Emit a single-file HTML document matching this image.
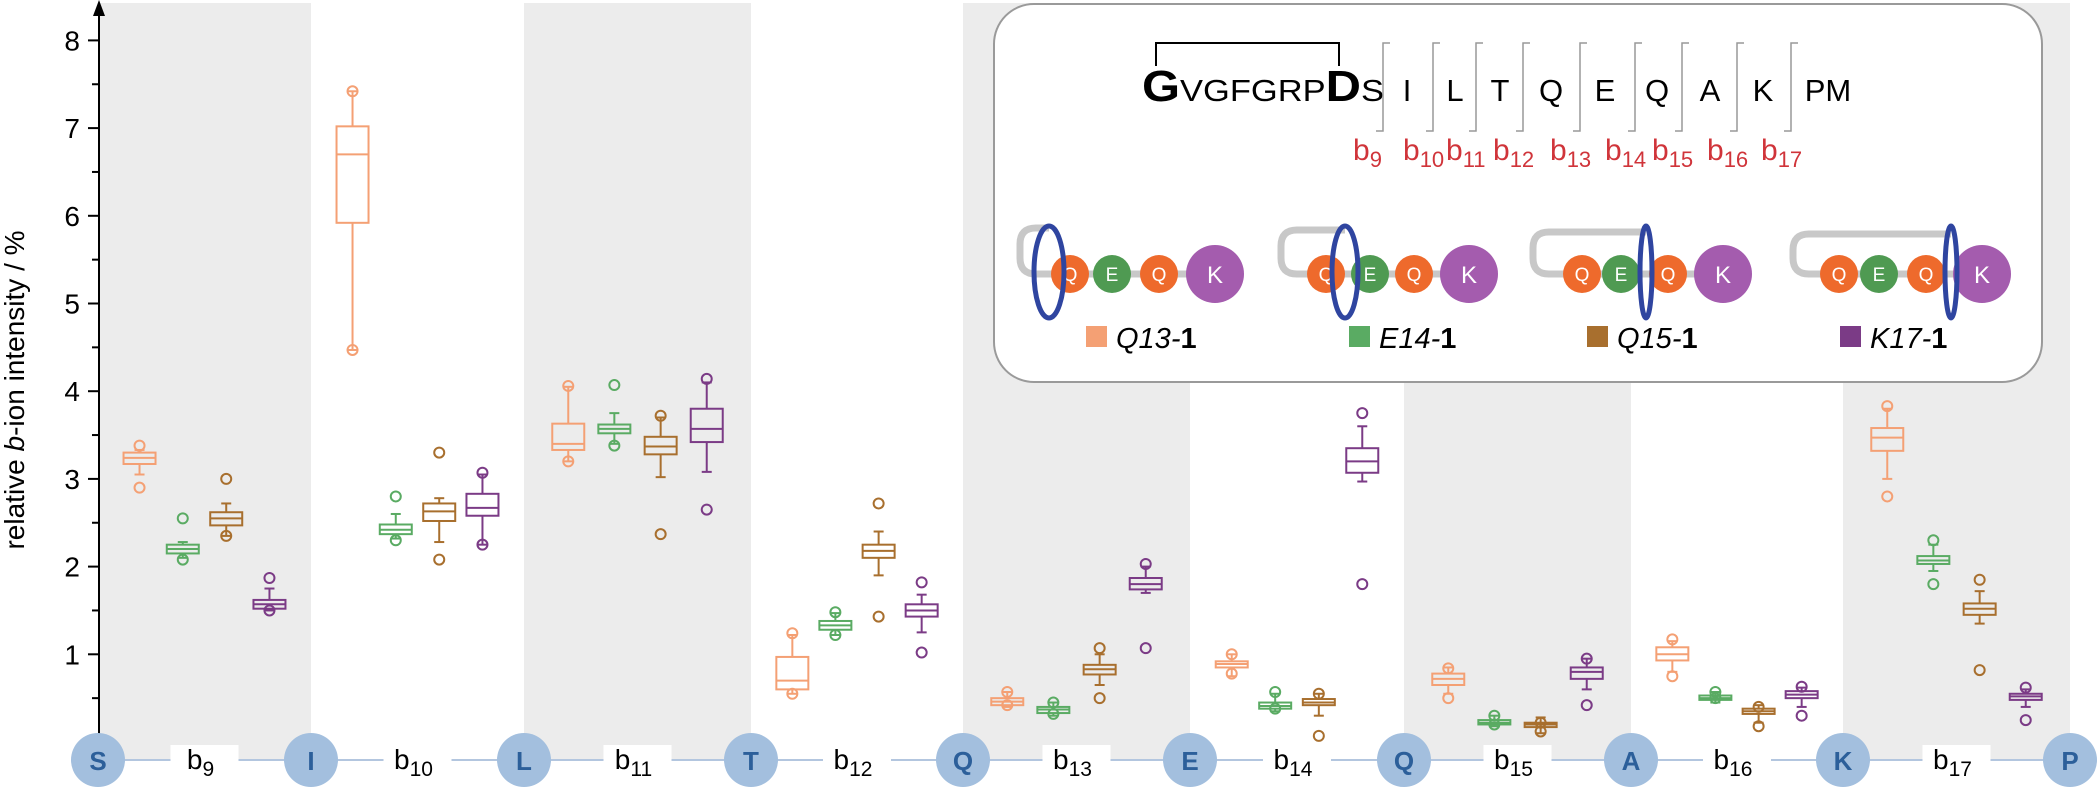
<!DOCTYPE html>
<html><head><meta charset="utf-8">
<style>
html,body{margin:0;padding:0;background:#fff;}
svg{display:block;font-family:"Liberation Sans",Arial,sans-serif;}
</style></head>
<body>
<svg id="s" width="2100" height="789" viewBox="0 0 2100 789" xmlns="http://www.w3.org/2000/svg">
<g id="bands" fill="#ececec"></g>
<rect x="994" y="4" width="1048" height="378" rx="40" ry="40" fill="#fff" stroke="#9a9a9a" stroke-width="2"/>
<g id="inset"></g>
<line x1="99" y1="744" x2="99" y2="12" stroke="#000" stroke-width="2"/>
<polygon points="99,0 93,16 105,16" fill="#000"/>
<g id="ticks"></g>
<text transform="translate(24,390) rotate(-90)" text-anchor="middle" font-size="28" fill="#000">relative <tspan font-style="italic">b</tspan>-ion intensity / %</text>
<g id="data"></g>
<g id="bottom"></g>
</svg>
<script>
var NS="http://www.w3.org/2000/svg";
function el(p,t,a,txt){var e=document.createElementNS(NS,t);for(var k in a)e.setAttribute(k,a[k]);if(txt!==undefined)e.textContent=txt;p.appendChild(e);return e;}
var g=function(id){return document.getElementById(id);};
function Y(v){return 742-87.7*v;}
var c=[98,311,524,751,963,1190,1404,1631,1843,2070];
for(var i=0;i<10;i+=2){el(g('bands'),'rect',{x:c[i],y:3,width:c[i+1]-c[i],height:757});}
for(var v=0.5;v<=8.01;v+=0.5){var maj=Math.abs(v-Math.round(v))<0.01;
 el(g('ticks'),'line',{x1:maj?88:92,y1:Y(v),x2:99,y2:Y(v),stroke:'#000','stroke-width':2});
 if(maj)el(g('ticks'),'text',{x:80,y:Y(v)+10,'text-anchor':'end','font-size':28},String(Math.round(v)));}
var cols=['#f4a074','#5aab63','#a86f2e','#7b3b86'];
var D=[
[[3.17,3.24,3.3,3.05,3.33,2.9,3.38],[2.15,2.2,2.25,2.1,2.28,2.08,2.55],[2.47,2.55,2.62,2.35,2.72,2.35,3.0],[1.52,1.57,1.62,1.5,1.75,1.5,1.87]],
[[5.92,6.7,7.02,4.47,7.42,4.47,7.42],[2.37,2.42,2.48,2.32,2.6,2.3,2.8],[2.52,2.63,2.72,2.28,2.78,2.08,3.3],[2.58,2.67,2.83,2.25,3.05,2.25,3.07]],
[[3.33,3.4,3.63,3.2,4.05,3.2,4.06],[3.52,3.57,3.62,3.4,3.75,3.38,4.07],[3.28,3.37,3.48,3.02,3.7,2.37,3.72],[3.42,3.57,3.8,3.08,4.1,2.65,4.14]],
[[0.6,0.7,0.97,0.55,1.22,0.55,1.24],[1.28,1.33,1.38,1.22,1.47,1.22,1.48],[2.1,2.18,2.25,1.9,2.4,1.43,2.72],[1.43,1.5,1.57,1.25,1.68,1.02,1.82]],
[[0.42,0.46,0.5,0.4,0.57,0.42,0.57],[0.33,0.37,0.4,0.3,0.45,0.32,0.45],[0.77,0.83,0.88,0.65,1.0,0.5,1.07],[1.74,1.8,1.87,1.7,2.0,1.07,2.03]],
[[0.85,0.89,0.92,0.75,1.0,0.78,1.0],[0.38,0.41,0.45,0.35,0.55,0.38,0.57],[0.42,0.45,0.49,0.3,0.55,0.07,0.55],[3.07,3.2,3.35,2.97,3.6,1.8,3.75]],
[[0.65,0.72,0.78,0.55,0.85,0.5,0.84],[0.2,0.22,0.25,0.18,0.3,0.2,0.3],[0.17,0.2,0.22,0.1,0.28,0.12,0.22],[0.72,0.8,0.85,0.6,0.95,0.42,0.95]],
[[0.93,1.0,1.08,0.8,1.15,0.75,1.17],[0.48,0.5,0.53,0.45,0.57,0.5,0.57],[0.32,0.35,0.38,0.22,0.42,0.18,0.4],[0.5,0.54,0.58,0.4,0.62,0.3,0.63]],
[[3.32,3.47,3.58,3.0,3.8,2.8,3.83],[2.03,2.07,2.12,1.95,2.25,1.8,2.3],[1.45,1.52,1.58,1.35,1.72,0.82,1.85],[0.48,0.52,0.55,0.4,0.6,0.25,0.62]]
];
var off=[-0.305,-0.102,0.102,0.305];
var dg=g('data');
for(var i=0;i<9;i++){var w=c[i+1]-c[i],m=(c[i]+c[i+1])/2;
 for(var j=0;j<4;j++){var x=m+off[j]*w,d=D[i][j],col=cols[j],a={stroke:col,'stroke-width':2,fill:'none'};
  el(dg,'line',Object.assign({x1:x,x2:x,y1:Y(d[4]),y2:Y(d[2])},a));
  el(dg,'line',Object.assign({x1:x,x2:x,y1:Y(d[0]),y2:Y(d[3])},a));
  el(dg,'line',Object.assign({x1:x-5,x2:x+5,y1:Y(d[4]),y2:Y(d[4])},a));
  el(dg,'line',Object.assign({x1:x-5,x2:x+5,y1:Y(d[3]),y2:Y(d[3])},a));
  el(dg,'rect',Object.assign({x:x-16,y:Y(d[2]),width:32,height:Math.max(2,Y(d[0])-Y(d[2])),fill:'#fff'},a));
  el(dg,'line',Object.assign({x1:x-16,x2:x+16,y1:Y(d[1]),y2:Y(d[1])},a));
  el(dg,'circle',Object.assign({cx:x,cy:Y(d[5]),r:5},a));
  el(dg,'circle',Object.assign({cx:x,cy:Y(d[6]),r:5},a));
 }}
var bg=g('bottom');
el(bg,'line',{x1:98,x2:2070,y1:760,y2:760,stroke:'#b3c6df','stroke-width':2});
var L=['S','I','L','T','Q','E','Q','A','K','P'];
for(var i=0;i<9;i++){var m=(c[i]+c[i+1])/2;
 el(bg,'rect',{x:m-34,y:745,width:68,height:34,fill:'#fff'});
 var t=el(bg,'text',{x:m-4,y:769,'text-anchor':'middle','font-size':28,fill:'#000'},'b');
 el(t,'tspan',{'font-size':21,dy:7},String(9+i));}
for(var i=0;i<10;i++){el(bg,'circle',{cx:c[i],cy:760,r:27,fill:'#a3bfde'});
 el(bg,'text',{x:c[i],y:770,'text-anchor':'middle','font-size':26,'font-weight':'bold',fill:'#2c5f9a'},L[i]);}
var ig=g('inset');
el(ig,'polyline',{points:'1156,66 1156,43 1339,43 1339,66',fill:'none',stroke:'#000','stroke-width':2});
var st=el(ig,'text',{x:1142,y:101,'font-size':31,fill:'#000',textLength:242,lengthAdjust:'spacingAndGlyphs'});
el(st,'tspan',{'font-size':44,'font-weight':'bold'},'G');el(st,'tspan',{},'VGFGRP');
el(st,'tspan',{'font-size':44,'font-weight':'bold'},'D');el(st,'tspan',{},'S');
var lx=[1383,1433,1476,1523,1580,1635,1682,1737,1791];
var lt=[[1407,'I'],[1455,'L'],[1500,'T'],[1551,'Q'],[1605,'E'],[1657,'Q'],[1710,'A'],[1763,'K'],[1828,'PM']];
for(var i=0;i<9;i++){var x=lx[i];
 el(ig,'polyline',{points:(x+7)+',43 '+x+',43 '+x+',131 '+(x-7)+',131',fill:'none',stroke:'#999','stroke-width':1.5});
 var t=el(ig,'text',{x:x-30,y:160,'font-size':30,fill:'#d0343a'},'b');
 el(t,'tspan',{'font-size':22,dy:7},String(9+i));
 el(ig,'text',{x:lt[i][0],y:101,'text-anchor':'middle','font-size':31,fill:'#000'},lt[i][1]);}
var mols=[
 {loop:1020,ring:1049,ringRx:15,b:[[1070,'Q'],[1112,'E'],[1159,'Q'],[1215,'K']]},
 {loop:1281,ring:1345,ringRx:13,b:[[1326,'Q'],[1370,'E'],[1414,'Q'],[1469,'K']]},
 {loop:1533,ring:1646,ringRx:6,b:[[1582,'Q'],[1621,'E'],[1668,'Q'],[1723,'K']]},
 {loop:1793,ring:1951,ringRx:6,b:[[1839,'Q'],[1879,'E'],[1926,'Q'],[1982,'K']]}];
var bc={Q:'#ee6a2c',E:'#4f9a52',K:'#a45cae'};
mols.forEach(function(mo,k){var y=274,top=228+k*2;
 el(ig,'path',{d:'M'+mo.ring+','+top+' L'+(mo.loop+16)+','+top+' Q'+mo.loop+','+top+' '+mo.loop+','+(top+16)+' L'+mo.loop+','+(y-16)+' Q'+mo.loop+','+y+' '+(mo.loop+16)+','+y+' L'+mo.b[3][0]+','+y,fill:'none',stroke:'#c8c8c8','stroke-width':7});
 mo.b.forEach(function(b){var r=b[1]=='K'?29:19;
  el(ig,'circle',{cx:b[0],cy:y,r:r,fill:bc[b[1]]});
  el(ig,'text',{x:b[0],y:y+(r>20?9:7),'text-anchor':'middle','font-size':r>20?24:19,fill:'#fff'},b[1]);});
 el(ig,'ellipse',{cx:mo.ring,cy:y-2,rx:mo.ringRx,ry:46,fill:'none',stroke:'#2f45a0','stroke-width':5});
});
var lg=[[1086,'Q13'],[1349,'E14'],[1587,'Q15'],[1840,'K17']];
lg.forEach(function(l,i){el(ig,'rect',{x:l[0],y:326,width:21,height:21,fill:cols[i]});
 var t=el(ig,'text',{x:l[0]+30,y:348,'font-size':29,fill:'#000'});
 el(t,'tspan',{'font-style':'italic'},l[1]+'-');el(t,'tspan',{'font-weight':'bold'},'1');});
</script>
</body></html>
